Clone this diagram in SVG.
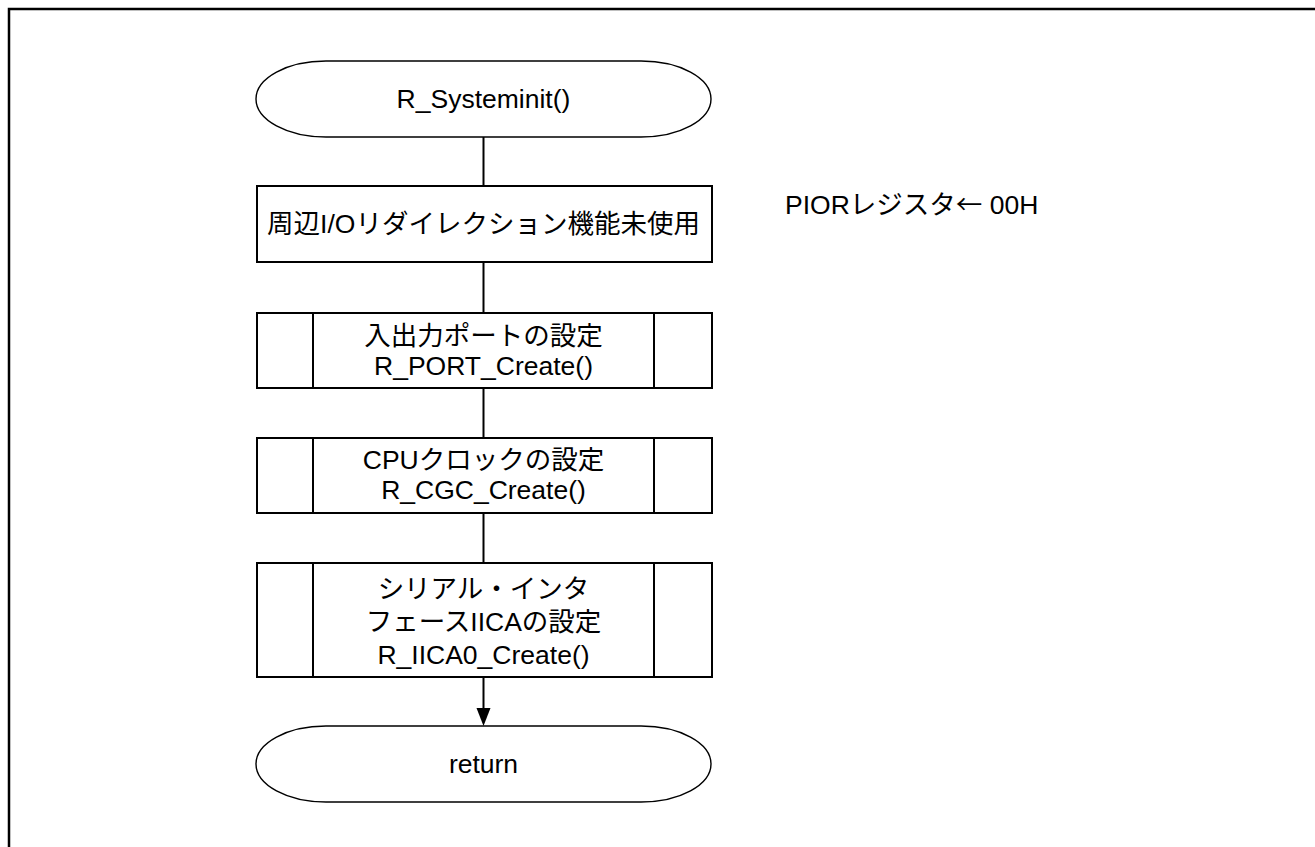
<svg xmlns="http://www.w3.org/2000/svg" width="1315" height="847" viewBox="0 0 1315 847">
<style>
text{font-family:"Liberation Sans","Noto Sans CJK JP",sans-serif;font-size:26.5px;fill:#000}
.c{text-anchor:middle}
.j{font-family:"Noto Sans CJK JP",sans-serif}
.term{fill:#fff;stroke:#000;stroke-width:1.4}
.box{fill:#fff;stroke:#000;stroke-width:2}
.ln{stroke:#000;stroke-width:2;fill:none}
</style>
<rect width="1315" height="847" fill="#fff"/>
<path d="M9,847 V9 H1315" fill="none" stroke="#000" stroke-width="2.5"/>
<g id="connectors">
<line class="ln" x1="483.5" y1="137" x2="483.5" y2="186"/>
<line class="ln" x1="483.5" y1="262" x2="483.5" y2="313"/>
<line class="ln" x1="483.5" y1="388" x2="483.5" y2="438"/>
<line class="ln" x1="483.5" y1="513" x2="483.5" y2="563"/>
<line class="ln" x1="483.5" y1="677" x2="483.5" y2="708"/>
<path d="M476.5,708 L490.5,708 L483.5,726 Z" fill="#000"/>
</g>
<g id="start">
<rect class="term" x="256" y="61" width="455" height="76" rx="70" ry="38"/>
<text class="c" x="483.5" y="108">R_Systeminit()</text>
</g>
<g id="pior">
<rect class="box" x="257" y="186" width="455" height="76"/>
<text class="c" x="483.5" y="233">周辺I/Oリダイレクション機能未使用</text>
</g>
<g id="port">
<rect class="box" x="257" y="313" width="455" height="75"/>
<line class="ln" x1="313" y1="313" x2="313" y2="388"/>
<line class="ln" x1="654" y1="313" x2="654" y2="388"/>
<text class="c" x="483.5" y="345">入出力ポートの設定</text>
<text class="c" x="483.5" y="375">R_PORT_Create()</text>
</g>
<g id="cgc">
<rect class="box" x="257" y="438" width="455" height="75"/>
<line class="ln" x1="313" y1="438" x2="313" y2="513"/>
<line class="ln" x1="654" y1="438" x2="654" y2="513"/>
<text class="c" x="483.5" y="469">CPUクロックの設定</text>
<text class="c" x="483.5" y="499">R_CGC_Create()</text>
</g>
<g id="iica">
<rect class="box" x="257" y="563" width="455" height="114"/>
<line class="ln" x1="313" y1="563" x2="313" y2="677"/>
<line class="ln" x1="654" y1="563" x2="654" y2="677"/>
<text class="c" x="483.5" y="598">シリアル・インタ</text>
<text class="c" x="483.5" y="631">フェースIICAの設定</text>
<text class="c" x="483.5" y="664">R_IICA0_Create()</text>
</g>
<g id="end">
<rect class="term" x="256" y="726" width="455" height="76" rx="70" ry="38"/>
<text class="c" x="483.5" y="773">return</text>
</g>
<g id="note">
<text x="785" y="214">PIORレジスタ<tspan class="j">←</tspan> 00H</text>
</g>
</svg>
